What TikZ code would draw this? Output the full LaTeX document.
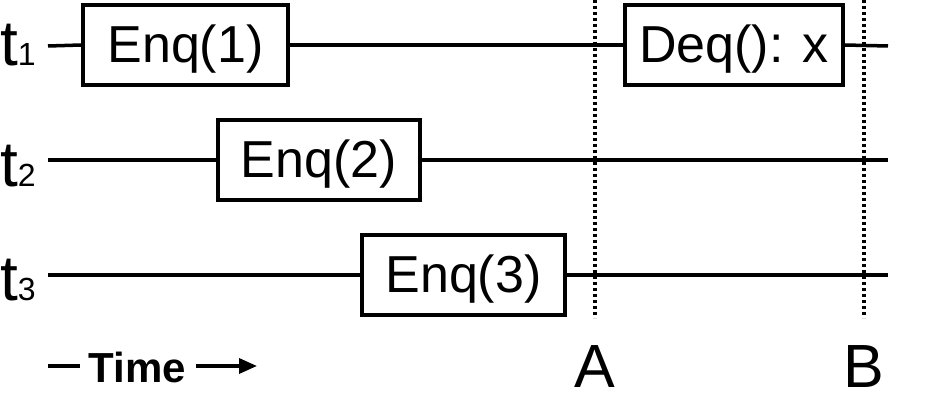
\documentclass[tikz,border=0pt]{standalone}
\usepackage{fontspec}
\setmainfont{Liberation Sans}
\usetikzlibrary{arrows.meta}
\usetikzlibrary{positioning}

\newcommand{\opfont}{\fontsize{52}{52}\selectfont}
\newcommand{\thrfont}{\fontsize{64}{64}\selectfont}
\newcommand{\subfont}{\fontsize{32}{32}\selectfont}
\newcommand{\ptfont}{\fontsize{61}{61}\selectfont}
\newcommand{\thr}[1]{t{\subfont #1}}

\tikzset{
  op/.style={draw, line width=3.5pt, fill=white, inner sep=0pt, minimum height=80pt,
    text height=40pt, text depth=5pt, font=\opfont},
  life/.style={line width=3.5pt},
  cut/.style={line width=3.5pt, dash pattern=on 3pt off 3pt}
}

\begin{document}
\begin{tikzpicture}[x=1pt,y=-1pt]
\useasboundingbox (0,0) rectangle (938,417);

% thread labels and start/end of each line
\foreach \i/\y/\b in {1/46/66,2/160/186,3/275/300} {
    \node[anchor=base west, inner sep=0pt, font=\thrfont] (lbl\i) at (0,\b) {\thr{\i}};
    \coordinate (s\i) at (48,\y);
    \coordinate (e\i) at (888,\y);
}

% operations
\node[op, minimum width=205pt] (enq1) at (185.5,45) {Enq(1)};
\node[op, minimum width=202pt] (enq2) at (319,160) {Enq(2)};
\node[op, minimum width=203pt] (enq3) at (463.5,275) {Enq(3)};
\node[op, minimum width=218pt] (deq) at (734,45) {Deq(): x};

% cut points
\coordinate (Atop) at (595,0); \coordinate (Abot) at (595,318);
\coordinate (Btop) at (864,0); \coordinate (Bbot) at (864,318);
\draw[cut] (Atop) -- (Abot);
\draw[cut] (Btop) -- (Bbot);
\node[anchor=base, inner sep=0pt, font=\ptfont] (A) at (595,387) {A};
\node[anchor=base, inner sep=0pt, font=\ptfont] (B) at (864,387) {B};

% timelines
\draw[life] (s1) -- (enq1.west); \draw[life] (enq1.east) -- (deq.west); \draw[life] (deq.east) -- (e1);
\draw[life] (s2) -- (enq2.west); \draw[life] (enq2.east) -- (e2);
\draw[life] (s3) -- (enq3.west); \draw[life] (enq3.east) -- (e3);

% time axis
\node[anchor=base, inner sep=0pt, font=\fontsize{42}{42}\selectfont\bfseries] (time) at (137.5,382) {Time};
\coordinate (t0) at (48,366); \coordinate (t1) at (80,366);
\coordinate (t2) at (196,366); \coordinate (t3) at (257,366);
\draw[life] (t0) -- (t1);
\draw[life, -{Triangle[length=18pt,width=15pt]}] (t2) -- (t3);
\end{tikzpicture}
\end{document}
